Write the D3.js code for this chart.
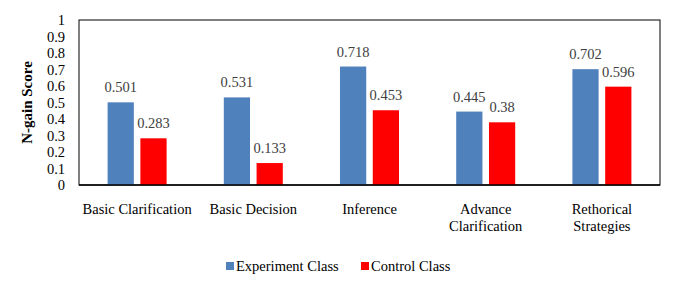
<!DOCTYPE html>
<html>
<head>
<meta charset="utf-8">
<script src="https://cdn.jsdelivr.net/npm/d3@7"></script>
<style>
  body { margin: 0; background: #fff; overflow: hidden; }
</style>
</head>
<body>
<script>
// Data
var categories = [["Basic Clarification"], ["Basic Decision"], ["Inference"], ["Advance", "Clarification"], ["Rethorical", "Strategies"]];
var seriesNames = ["Experiment Class", "Control Class"];
var experiment = [0.501, 0.531, 0.718, 0.445, 0.702];
var control = [0.283, 0.133, 0.453, 0.38, 0.596];
var yTicks = [0, 0.1, 0.2, 0.3, 0.4, 0.5, 0.6, 0.7, 0.8, 0.9, 1];
var colors = ["#4F81BD", "#FF0000"];

// Chart size
var width = 679;
var height = 286;
var margin = { top: 20, right: 19, bottom: 101, left: 79 };
var innerWidth = width - margin.left - margin.right;
var innerHeight = height - margin.top - margin.bottom;
var serif = "'Liberation Serif', 'Times New Roman', 'DejaVu Serif', serif";

var svg = d3.select("body")
  .append("svg")
  .attr("width", width)
  .attr("height", height)
  .style("display", "block")
  .attr("font-family", serif);

var g = svg.append("g")
  .attr("transform", "translate(" + margin.left + "," + margin.top + ")");

var keys = categories.map(function (d, i) { return i; });

var xScale = d3.scaleBand()
  .domain(keys)
  .range([0, innerWidth]);

// Bars inside each category
var xInner = d3.scaleBand()
  .domain([0, 1])
  .range([0, 59])
  .paddingInner(0.2);

var yScale = d3.scaleLinear()
  .domain([0, 1])
  .range([innerHeight, 0]);

// Plot border
g.append("rect")
  .attr("width", innerWidth)
  .attr("height", innerHeight)
  .attr("fill", "none")
  .attr("stroke", "#000")
  .attr("stroke-width", 1);

// Y axis labels
g.selectAll(".ytick")
  .data(yTicks)
  .enter().append("text")
  .attr("x", -14)
  .attr("y", function (d) { return yScale(d) + 5; })
  .attr("text-anchor", "end")
  .attr("font-size", 14.5)
  .attr("fill", "#000")
  .text(function (d) { return d; });

// Bars + value labels
var series = [experiment, control];
series.forEach(function (vals, s) {
  var offset = (xScale.bandwidth() - 59) / 2;
  g.selectAll(".bar" + s)
    .data(vals)
    .enter().append("rect")
    .attr("x", function (d, i) { return xScale(i) + offset + xInner(s); })
    .attr("y", function (d) { return yScale(d); })
    .attr("width", xInner.bandwidth())
    .attr("height", function (d) { return innerHeight - yScale(d); })
    .attr("fill", colors[s]);

  g.selectAll(".lab" + s)
    .data(vals)
    .enter().append("text")
    .attr("x", function (d, i) { return xScale(i) + offset + xInner(s) + xInner.bandwidth() / 2; })
    .attr("y", function (d) { return yScale(d) - 10; })
    .attr("text-anchor", "middle")
    .attr("font-size", 14.5)
    .attr("fill", "#404040")
    .text(function (d) { return d; });
});

// Bottom axis line (slightly heavier)
g.append("line")
  .attr("x1", 0)
  .attr("x2", innerWidth)
  .attr("y1", innerHeight)
  .attr("y2", innerHeight)
  .attr("stroke", "#000")
  .attr("stroke-width", 1.5);

// X labels
var xl = g.selectAll(".xlab")
  .data(categories)
  .enter().append("text")
  .attr("text-anchor", "middle")
  .attr("font-size", 14.5)
  .attr("fill", "#000")
  .attr("transform", function (d, i) {
    return "translate(" + (xScale(i) + xScale.bandwidth() / 2) + "," + (innerHeight + 29) + ")";
  });
xl.selectAll("tspan")
  .data(function (d) { return d; })
  .enter().append("tspan")
  .attr("x", 0)
  .attr("y", function (d, i) { return i * 17; })
  .text(function (d) { return d; });

// Y axis title
svg.append("text")
  .attr("transform", "translate(32," + (margin.top + innerHeight / 2) + ") rotate(-90)")
  .attr("text-anchor", "middle")
  .attr("font-size", 15)
  .attr("font-weight", "bold")
  .attr("fill", "#000")
  .text("N-gain Score");

// Legend
var legendX = [226, 361];
seriesNames.forEach(function (name, s) {
  svg.append("rect")
    .attr("x", legendX[s])
    .attr("y", 262)
    .attr("width", 8)
    .attr("height", 8)
    .attr("fill", colors[s]);
  svg.append("text")
    .attr("x", legendX[s] + 10)
    .attr("y", 271)
    .attr("font-size", 14.5)
    .attr("fill", "#000")
    .text(name);
});
</script>
</body>
</html>
